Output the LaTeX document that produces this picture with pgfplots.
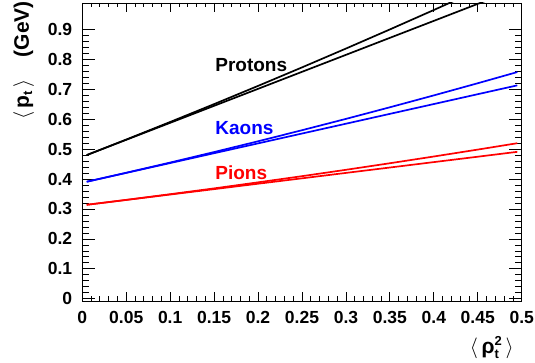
\documentclass[border=0pt]{standalone}
\usepackage{fontspec}
\setmainfont{Liberation Sans}
\usepackage{pgfplots}
\pgfplotsset{compat=1.18}
\begin{document}
\begin{tikzpicture}
\useasboundingbox (-82.3pt,-62pt) rectangle (452.7pt,301pt);
\begin{axis}[
  at={(0,0)}, anchor=south west,
  scale only axis, width=439.4pt, height=298pt,
  xmin=0, xmax=0.5, ymin=-0.0073, ymax=0.988,
  xtick={0,0.05,0.1,0.15,0.2,0.25,0.3,0.35,0.4,0.45,0.5},
  xticklabels={0,0.05,0.1,0.15,0.2,0.25,0.3,0.35,0.4,0.45,0.5},
  ytick={0,0.1,0.2,0.3,0.4,0.5,0.6,0.7,0.8,0.9},
  yticklabels={0,0.1,0.2,0.3,0.4,0.5,0.6,0.7,0.8,0.9},
  minor x tick num=4, minor y tick num=4,
  tick align=inside,
  every major x tick/.append style={/pgfplots/major tick length=9pt},
  every minor x tick/.append style={/pgfplots/minor tick length=4.5pt},
  every major y tick/.append style={/pgfplots/major tick length=13pt},
  every minor y tick/.append style={/pgfplots/minor tick length=6.5pt},
  major tick style={line width=0.8pt, black},
  minor tick style={line width=0.8pt, black},
  axis line style={line width=0.9pt},
  /pgf/number format/assume math mode=true,
  tick label style={font=\bfseries\fontsize{17.5}{17.5}\selectfont, inner sep=0pt},
  yticklabel style={anchor=east, xshift=-10pt},
  xticklabel style={anchor=north, yshift=-10pt},
  xlabel={$\langle$\,ρ$^{\mbox{\bfseries\fontsize{13}{13}\selectfont 2}}_{\mbox{\bfseries\fontsize{13}{13}\selectfont t}}$\,$\rangle$},
  xlabel style={at={(rel axis cs:0.9825,-0.1745)}, anchor=base east, inner sep=0pt, font=\bfseries\fontsize{21}{21}\selectfont},
  ylabel={$\langle$\,p$_{\mbox{\bfseries\fontsize{13}{13}\selectfont t}}$\,$\rangle$\hspace{22pt}(GeV)},
  ylabel style={at={(rel axis cs:-0.1213,1.0067)}, anchor=base east, inner sep=0pt, rotate=0, font=\bfseries\fontsize{21}{21}\selectfont},
]
% Protons
\addplot[black, line width=1.7pt] coordinates {
(0.005,0.48) (0.05,0.5311) (0.1,0.5878) (0.15,0.6446) (0.2,0.7013) (0.25,0.7581)
(0.3,0.8148) (0.35,0.8716) (0.4,0.9283) (0.45,0.9851) (0.495,1.0362)};
\addplot[black, line width=1.7pt] coordinates {
(0.005,0.48) (0.05,0.5319) (0.1,0.5906) (0.15,0.6503) (0.2,0.7111) (0.25,0.7729)
(0.3,0.8358) (0.35,0.8997) (0.4,0.9646) (0.45,1.0307) (0.495,1.0910)};
% Kaons
\addplot[blue, line width=1.7pt] coordinates {
(0.005,0.391) (0.05,0.4206) (0.1,0.4534) (0.15,0.4863) (0.2,0.5191) (0.25,0.5520)
(0.3,0.5848) (0.35,0.6177) (0.4,0.6505) (0.45,0.6834) (0.495,0.7129)};
\addplot[blue, line width=1.7pt] coordinates {
(0.005,0.391) (0.05,0.4210) (0.1,0.4551) (0.15,0.4902) (0.2,0.5261) (0.25,0.5631)
(0.3,0.6009) (0.35,0.6397) (0.4,0.6794) (0.45,0.7200) (0.495,0.7573)};
% Pions
\addplot[red, line width=1.7pt] coordinates {
(0.005,0.314) (0.05,0.3302) (0.1,0.3483) (0.15,0.3663) (0.2,0.3844) (0.25,0.4024)
(0.3,0.4205) (0.35,0.4385) (0.4,0.4566) (0.45,0.4746) (0.495,0.4909)};
\addplot[red, line width=1.7pt] coordinates {
(0.005,0.314) (0.05,0.3304) (0.1,0.3494) (0.15,0.3688) (0.2,0.3890) (0.25,0.4096)
(0.3,0.4309) (0.35,0.4528) (0.4,0.4753) (0.45,0.4984) (0.495,0.5197)};
\node[anchor=base west, inner sep=0pt, font=\bfseries\fontsize{19}{19}\selectfont, black] at (axis cs:0.1512,0.7585) {Protons};
\node[anchor=base west, inner sep=0pt, font=\bfseries\fontsize{19}{19}\selectfont, blue] at (axis cs:0.1512,0.5504) {Kaons};
\node[anchor=base west, inner sep=0pt, font=\bfseries\fontsize{19}{19}\selectfont, red] at (axis cs:0.1512,0.400) {Pions};
\end{axis}
\end{tikzpicture}
\end{document}
